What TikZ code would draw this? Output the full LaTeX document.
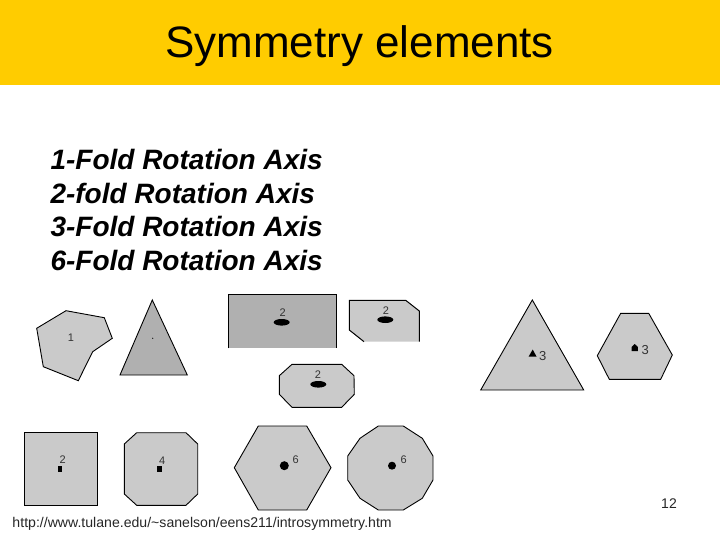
\documentclass[tikz,border=0pt]{standalone}
\usepackage{fontspec}
\setmainfont{Liberation Sans}
\definecolor{headeryellow}{HTML}{FFCC00}
\definecolor{facegray}{HTML}{CACACA}
\definecolor{darkgray}{HTML}{B0B0B0}
\tikzset{
  every picture/.style={
    line width=1pt
  },
  face/.style={fill=facegray, draw=black, line width=0.9pt},
  darkface/.style={fill=darkgray, draw=black, line width=0.9pt},
  num/.style={inner sep=0pt, font=\fontsize{11}{11}\selectfont, text=black!80},
  axis/.style={fill=black, draw=none}
}
\begin{document}
\begin{tikzpicture}[x=1pt, y=-1pt]
  \useasboundingbox (0,0) rectangle (720,540);
  \fill[headeryellow] (0,0) rectangle (720,85);
  \node[inner sep=0pt, font=\fontsize{44}{50}\selectfont] (title) at (359.5,46) {Symmetry elements};
  \node[inner sep=0pt, anchor=north west, align=left, font=\fontsize{28}{33.5}\selectfont\bfseries\itshape] (axes) at (50,149)
    {1-Fold Rotation Axis\\2-fold Rotation Axis\\3-Fold Rotation Axis\\6-Fold Rotation Axis};

  % top row
  \draw[face] (36.7,328.3) -- (66,310.7) -- (104.3,317.7) -- (112.3,338.3) -- (92.7,351.7) -- (78.3,380.7) -- (43.3,366.7) -- cycle;
  \node[num] (lblA) at (71,337.5) {1};
  \draw[darkface] (152.3,300) -- (187.3,375) -- (120,375) -- cycle;
  \fill (152.7,338.3) circle (0.6);

  \fill[darkgray] (228.3,294.3) rectangle (336.7,348.3);
  \draw (228.3,348.3) -- (228.3,294.3) -- (336.7,294.3) -- (336.7,348.3);
  \node[num] (lblB) at (282.7,313) {2};
  \fill[axis] (281.7,322.3) ellipse (8 and 3.3);

  \fill[facegray] (349.3,300.3) -- (405.7,300.3) -- (419.3,311) -- (419.3,341.7) -- (364,341.7) -- (349.3,330) -- cycle;
  \draw (364,341.7) -- (349.3,330) -- (349.3,300.3) -- (405.7,300.3) -- (419.3,311) -- (419.3,341.7);
  \node[num] (lblC) at (386,310.7) {2};
  \fill[axis] (385.3,319.7) ellipse (8 and 3.3);

  \draw[face] (292,364.3) -- (341.7,364.3) -- (354,375.7) -- (354.3,394.3) -- (341.7,407.3) -- (292,407.3) -- (279.3,394.3) -- (279.3,375.7) -- cycle;
  \node[num] (lblD) at (318,374.7) {2};
  \fill[axis] (318.3,384.3) ellipse (8 and 3.3);

  % right pair
  \draw[face] (532.3,300) -- (583.7,390) -- (480.7,390) -- cycle;
  \fill[axis] (532.7,349.5) -- (536.5,356.5) -- (528.7,356.5) -- cycle;
  \node[num, font=\fontsize{13}{13}\selectfont] (lblE) at (542.7,355.7) {3};
  \draw[face] (620.7,313.3) -- (648.7,313.3) -- (672.3,355) -- (660.7,379.3) -- (609.3,379.3) -- (597.3,355.7) -- cycle;
  \fill[axis] (631.5,351) -- (631.5,347) -- (634.7,344) -- (637.9,347) -- (637.9,351) -- cycle;
  \node[num, font=\fontsize{13}{13}\selectfont] (lblF) at (645.3,350.3) {3};

  % bottom row
  \draw[face] (24.3,432.7) rectangle (97.3,505.3);
  \node[num] (lblG) at (62.7,460) {2};
  \fill[axis] (58,466) rectangle (62,472);
  \draw[face] (136.7,432.7) -- (186,432.7) -- (197.7,444) -- (197.7,494) -- (186,505.3) -- (136.7,505.3) -- (124.3,494) -- (124.3,444) -- cycle;
  \node[num] (lblH) at (162.3,460.7) {4};
  \fill[axis] (156.8,466) rectangle (161.8,472);
  \draw[face] (258.3,426) -- (306.7,426) -- (331,467.7) -- (306.7,510) -- (258.3,510) -- (234.3,467.7) -- cycle;
  \node[num] (lblI) at (295.7,459.3) {6};
  \fill[axis] (284.3,465.7) circle (4.5);
  \draw[face] (378.3,426) -- (403.3,426) -- (422.3,438.3) -- (433,456) -- (433,480) -- (422.3,498.3) -- (403.3,510) -- (378.3,510) -- (360,498.3) -- (347.7,480) -- (347.7,456) -- (360,438.3) -- cycle;
  \node[num] (lblJ) at (403.7,459.3) {6};
  \fill[axis] (392,465.7) circle (4);

  \node[inner sep=0pt, font=\fontsize{14}{16}\selectfont, text=black!85] (page) at (669,504) {12};
  \node[inner sep=0pt, anchor=base west, font=\fontsize{14.1}{16}\selectfont, text=black!85] (url) at (12,527.5) {http://www.tulane.edu/\textasciitilde sanelson/eens211/introsymmetry.htm};
\end{tikzpicture}
\end{document}
